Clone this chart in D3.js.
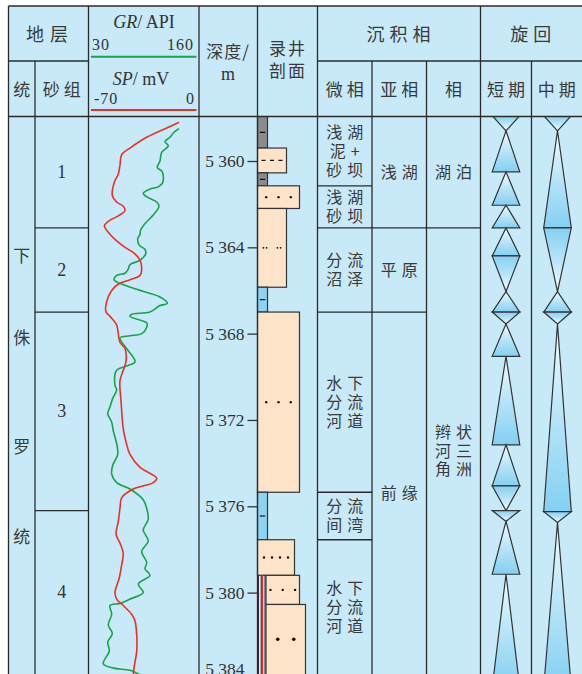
<!DOCTYPE html>
<html>
<head>
<meta charset="utf-8">
<script src="https://cdn.jsdelivr.net/npm/d3@7"></script>
<style>
  body { margin: 0; background: #fff; }
  .cjk { font-family: "Noto Sans CJK SC", sans-serif; fill: #3a3a3a; }
  .ser { font-family: "Liberation Serif", "DejaVu Serif", serif; fill: #333; }
</style>
</head>
<body>
<div id="chart"></div>
<script>
var width = 582;
var height = 674;

// depth axis
var depthTicks = [5360, 5364, 5368, 5372, 5376, 5380, 5384];
var depthLabels = ["5 360", "5 364", "5 368", "5 372", "5 376", "5 380", "5 384"];

// log curves: [depth m, value]
var grCurve = [
  [5358.5,138.9],[5358.7,131.9],[5358.9,127.8],[5359.1,121.6],[5359.3,125.7],[5359.6,117.5],
  [5360.0,115.4],[5360.3,112.1],[5360.5,118.3],[5361.0,118.8],[5361.2,113.3],[5361.3,103.0],
  [5361.5,94.7],[5361.7,100.9],[5361.9,111.3],[5362.1,114.2],[5362.5,107.1],[5362.9,96.9],
  [5363.2,91.5],[5363.4,90.7],[5363.6,87.8],[5363.9,89.8],[5364.1,96.9],[5364.3,97.7],
  [5364.6,90.7],[5364.8,78.3],[5365.0,76.2],[5365.2,72.1],[5365.3,61.8],[5365.5,58.5],
  [5365.6,61.8],[5365.9,82.4],[5366.3,115.4],[5366.6,124.5],[5366.7,115.4],[5367.0,103.0],
  [5367.1,80.4],[5367.2,78.3],[5367.5,99.0],[5367.7,99.0],[5368.0,92.8],[5368.1,78.3],
  [5368.2,65.9],[5368.7,74.2],[5369.3,84.5],[5369.5,74.2],[5369.7,61.8],[5370.4,59.7],
  [5370.6,61.8],[5371.0,56.9],[5371.4,53.5],[5371.7,50.7],[5372.1,55.6],[5372.5,57.6],
  [5373.1,61.8],[5373.6,63.1],[5374.1,56.9],[5374.5,55.6],[5374.9,61.8],[5375.2,78.3],
  [5375.7,94.7],[5376.1,99.0],[5376.6,100.9],[5377.1,94.7],[5377.6,100.9],[5378.1,92.8],
  [5378.6,99.0],[5378.9,96.9],[5379.2,103.0],[5379.6,88.6],[5380.0,94.7],[5380.3,78.3],
  [5380.5,65.9],[5380.6,53.5],[5381.0,55.6],[5381.5,51.4],[5381.9,56.4],[5382.3,50.7],
  [5382.7,52.7],[5383.3,45.2],[5383.5,57.6],[5383.6,78.3],[5383.8,90.7],[5384.0,103.0]
];
var spCurve = [
  [5358.2,-11.3],[5358.4,-17.3],[5358.9,-32.9],[5359.4,-44.0],[5359.7,-49.5],[5360.2,-50.7],
  [5360.6,-51.8],[5361.0,-54.5],[5361.6,-55.8],[5361.9,-52.9],[5362.1,-48.5],[5362.3,-47.3],
  [5362.5,-50.7],[5362.8,-58.5],[5363.0,-61.1],[5363.3,-58.5],[5363.7,-52.9],[5364.0,-47.3],
  [5364.3,-40.7],[5364.6,-37.3],[5365.0,-36.2],[5365.3,-37.3],[5365.5,-44.0],[5365.7,-51.8],
  [5366.0,-56.2],[5366.5,-59.5],[5367.0,-60.0],[5367.2,-57.3],[5367.6,-52.9],[5368.0,-51.8],
  [5368.4,-50.7],[5368.7,-47.3],[5369.3,-46.7],[5369.7,-48.5],[5370.2,-50.7],[5371.1,-50.0],
  [5372.4,-48.5],[5373.0,-46.7],[5373.6,-44.0],[5374.2,-37.3],[5374.7,-26.2],[5374.9,-28.5],
  [5375.2,-41.8],[5375.6,-49.5],[5376.1,-50.7],[5376.7,-51.8],[5377.3,-53.3],[5377.7,-50.7],
  [5378.2,-48.5],[5378.7,-49.5],[5379.3,-51.1],[5380.0,-54.0],[5380.3,-52.9],[5380.6,-48.5],
  [5381.0,-42.9],[5381.3,-40.7],[5382.0,-39.5],[5382.7,-39.5],[5383.4,-41.1],[5383.8,-41.8],
  [5384.2,-42.0]
];

// stratigraphy
var seriesChars = ["下", "侏", "罗", "统"];
var sandGroups = [
  { name: "1", top: 5357.9, bottom: 5363.1 },
  { name: "2", top: 5363.1, bottom: 5367.0 },
  { name: "3", top: 5367.0, bottom: 5376.2 },
  { name: "4", top: 5376.2, bottom: 5384.4 }
];

// lithology column
var grainLevels = ["泥岩", "粉砂岩", "粉细砂岩", "细砂岩", "中砂岩"];
var litho = [
  { top: 5357.9,  bottom: 5359.4,  rock: "灰色泥岩",   grain: "泥岩" },
  { top: 5359.4,  bottom: 5360.55, rock: "泥质粉砂岩", grain: "粉砂岩" },
  { top: 5360.55, bottom: 5361.15, rock: "灰色泥岩",   grain: "泥岩" },
  { top: 5361.15, bottom: 5362.2,  rock: "细砂岩",     grain: "细砂岩" },
  { top: 5362.2,  bottom: 5365.85, rock: "粉砂岩",     grain: "粉砂岩" },
  { top: 5365.85, bottom: 5367.0,  rock: "泥岩",       grain: "泥岩" },
  { top: 5367.0,  bottom: 5375.35, rock: "细砂岩",     grain: "细砂岩" },
  { top: 5375.35, bottom: 5377.55, rock: "泥岩",       grain: "泥岩" },
  { top: 5377.55, bottom: 5379.2,  rock: "粉细砂岩",   grain: "粉细砂岩" },
  { top: 5379.2,  bottom: 5380.55, rock: "细砂岩",     grain: "细砂岩", afterStrip: true },
  { top: 5380.55, bottom: 5384.4,  rock: "中砂岩",     grain: "中砂岩", afterStrip: true }
];
var stripLayers = [{ top: 5379.2, bottom: 5384.4 }];

// facies
var microFacies = [
  { top: 5357.9,  bottom: 5361.15, lines: ["浅湖", "泥+", "砂坝"] },
  { top: 5361.15, bottom: 5363.1,  lines: ["浅湖", "砂坝"] },
  { top: 5363.1,  bottom: 5367.0,  lines: ["分流", "沼泽"] },
  { top: 5367.0,  bottom: 5375.35, lines: ["水下", "分流", "河道"] },
  { top: 5375.35, bottom: 5377.55, lines: ["分流", "间湾"] },
  { top: 5377.55, bottom: 5384.4,  lines: ["水下", "分流", "河道"] }
];
var subFacies = [
  { top: 5357.9, bottom: 5363.1, lines: ["浅湖"] },
  { top: 5363.1, bottom: 5367.0, lines: ["平原"] },
  { top: 5367.0, bottom: 5384.4, lines: ["前缘"] }
];
var facies = [
  { top: 5357.9, bottom: 5363.1, lines: ["湖泊"] },
  { top: 5363.1, bottom: 5384.4, lines: ["辫状", "河三", "角洲"] }
];

// cycles: base = side of the wide edge
var shortCycles = [
  [5357.9, 5358.6, "top"], [5358.6, 5360.5, "bottom"], [5360.5, 5362.05, "bottom"],
  [5362.05, 5363.1, "bottom"], [5363.1, 5364.4, "bottom"], [5364.4, 5366.05, "top"],
  [5366.05, 5367.0, "bottom"], [5367.0, 5367.55, "top"], [5367.55, 5369.05, "bottom"],
  [5369.05, 5373.15, "bottom"], [5373.15, 5375.05, "bottom"], [5375.05, 5376.2, "top"],
  [5376.2, 5376.7, "top"], [5376.7, 5379.15, "bottom"], [5379.15, 5384.4, "bottom"]
];
var midCycles = [
  [5357.9, 5358.6, "top"], [5358.6, 5363.1, "bottom"], [5363.1, 5366.05, "top"],
  [5366.05, 5367.0, "bottom"], [5367.0, 5367.55, "top"], [5367.55, 5376.25, "bottom"],
  [5376.25, 5376.75, "top"], [5376.75, 5384.4, "bottom"]
];

// ---------- layout ----------
var colX = [8.5, 35, 88.5, 199, 257.5, 317.5, 372, 426.5, 480.5, 531.5, 583];
var topY = 6, midY = 61, headY = 116.5;
var lineColor = "#2b2b2b";
var bg = "#c8e9f8";

var svg = d3.select("#chart").append("svg")
  .attr("width", width)
  .attr("height", height);

var defs = svg.append("defs");
function grad(id, flip) {
  var g = defs.append("linearGradient").attr("id", id)
    .attr("x1", 0).attr("y1", flip ? 1 : 0).attr("x2", 0).attr("y2", flip ? 0 : 1);
  g.append("stop").attr("offset", "0%").attr("stop-color", "#f3fbfe");
  g.append("stop").attr("offset", "55%").attr("stop-color", "#b2e2f7");
  g.append("stop").attr("offset", "100%").attr("stop-color", "#84d0f2");
}
grad("gBottom", false);
grad("gTop", true);
defs.append("clipPath").attr("id", "bodyClip")
  .append("rect").attr("x", 0).attr("y", headY).attr("width", width).attr("height", height - headY);

svg.append("rect")
  .attr("x", colX[0]).attr("y", topY)
  .attr("width", width - colX[0]).attr("height", height - topY)
  .attr("fill", bg);

var yScale = d3.scaleLinear()
  .domain([5360, 5384])
  .range([161, 161 + 24 * 21.58]);

function yc(d) { return Math.max(headY, Math.min(height, yScale(d))); }
function midOf(d) { return (yc(d.top) + yc(d.bottom)) / 2; }

var body = svg.append("g").attr("clip-path", "url(#bodyClip)");

// ---------- logs ----------
var grScale = d3.scaleLinear().domain([30, 160]).range([91, 196]);
var spScale = d3.scaleLinear().domain([-70, 0]).range([91, 196]);

var grLine = d3.line()
  .x(function(d) { return grScale(d[1]); })
  .y(function(d) { return yScale(d[0]); })
  .curve(d3.curveCatmullRom);
var spLine = d3.line()
  .x(function(d) { return spScale(d[1]); })
  .y(function(d) { return yScale(d[0]); })
  .curve(d3.curveCatmullRom);

body.append("path").datum(grCurve).attr("d", grLine)
  .attr("fill", "none").attr("stroke", "#17a34a").attr("stroke-width", 1.6);
body.append("path").datum(spCurve).attr("d", spLine)
  .attr("fill", "none").attr("stroke", "#ee2e24").attr("stroke-width", 1.6);

// ---------- lithology ----------
var litLeft = colX[4];
var stripW = 8.5;
var grainWidth = d3.scaleOrdinal().domain(grainLevels).range([10, 29, 37, 42, 48]);
var rockFill = { "灰色泥岩": "#8b8b8b", "泥岩": "#8ed4f2" };
var rockMark = {
  "泥质粉砂岩": { type: "dash", n: 3, gap: 8.5 },
  "细砂岩": { type: "dot", n: 3, gap: 12.3 },
  "粉砂岩": { type: "pair", n: 2, gap: 14 },
  "粉细砂岩": { type: "dot", n: 4, gap: 8 },
  "中砂岩": { type: "big", n: 2, gap: 16 }
};

litho.forEach(function(l) {
  var x0 = litLeft + (l.afterStrip ? stripW : 0);
  var x1 = litLeft + grainWidth(l.grain);
  var y0 = yScale(l.top), y1 = yScale(l.bottom);
  body.append("rect")
    .attr("x", x0).attr("y", y0).attr("width", x1 - x0).attr("height", y1 - y0)
    .attr("fill", rockFill[l.rock] || "#fde4c9")
    .attr("stroke", "#333").attr("stroke-width", 1.2);
  var cy = midOf(l), cx = (x0 + x1) / 2;
  if (l.grain === "泥岩") {
    body.append("line").attr("x1", cx - 2.7).attr("x2", cx + 2.7)
      .attr("y1", cy).attr("y2", cy).attr("stroke", "#111").attr("stroke-width", 1.2);
    return;
  }
  var m = rockMark[l.rock];
  for (var i = 0; i < m.n; i++) {
    var mx = cx + (i - (m.n - 1) / 2) * m.gap;
    if (m.type === "dash") {
      body.append("line").attr("x1", mx - 2).attr("x2", mx + 2)
        .attr("y1", cy).attr("y2", cy).attr("stroke", "#111").attr("stroke-width", 1.3);
    } else if (m.type === "pair") {
      [-1.6, 1.6].forEach(function(o) {
        body.append("circle").attr("cx", mx + o).attr("cy", cy).attr("r", 0.9).attr("fill", "#111");
      });
    } else {
      body.append("circle").attr("cx", mx).attr("cy", cy)
        .attr("r", m.type === "big" ? 1.8 : 1.2).attr("fill", "#111");
    }
  }
});

stripLayers.forEach(function(s) {
  var y0 = yScale(s.top), y1 = yScale(s.bottom);
  body.append("rect").attr("x", litLeft + 1).attr("y", y0)
    .attr("width", stripW - 2).attr("height", y1 - y0)
    .attr("fill", bg).attr("stroke", "#333").attr("stroke-width", 1);
  body.append("rect").attr("x", litLeft + 3.2).attr("y", y0)
    .attr("width", 2.2).attr("height", y1 - y0).attr("fill", "#e0161b");
});

// ---------- cycles ----------
function drawCycles(data, cx, hw) {
  data.forEach(function(c) {
    var y0 = yScale(c[0]), y1 = yScale(c[1]);
    var pts = c[2] === "bottom"
      ? [[cx, y0], [cx + hw, y1], [cx - hw, y1]]
      : [[cx - hw, y0], [cx + hw, y0], [cx, y1]];
    body.append("path")
      .attr("d", d3.line()(pts) + "Z")
      .attr("fill", c[2] === "bottom" ? "url(#gBottom)" : "url(#gTop)")
      .attr("stroke", "#333").attr("stroke-width", 1.2).attr("stroke-linejoin", "miter");
  });
}
drawCycles(shortCycles, 506, 13.8);
drawCycles(midCycles, 557.5, 13.8);

// ---------- grid ----------
var grid = svg.append("g").attr("stroke", lineColor).attr("stroke-width", 1.3);
function hline(x1, x2, y) { grid.append("line").attr("x1", x1).attr("x2", x2).attr("y1", y).attr("y2", y); }
function vline(x, y1, y2) { grid.append("line").attr("x1", x).attr("x2", x).attr("y1", y1).attr("y2", y2); }

hline(colX[0], width, topY);
hline(colX[0], colX[2], midY);
hline(colX[5], width, midY);
hline(colX[0], width, headY);
[0, 2, 3, 4, 5, 8].forEach(function(i) { vline(colX[i], topY, height); });
[1, 6, 7, 9].forEach(function(i) { vline(colX[i], midY, height); });

sandGroups.slice(1).forEach(function(s) { hline(colX[1], colX[2], yScale(s.top)); });
microFacies.slice(1).forEach(function(s) { hline(colX[5], colX[6], yScale(s.top)); });
subFacies.slice(1).forEach(function(s) { hline(colX[6], colX[7], yScale(s.top)); });
facies.slice(1).forEach(function(s) { hline(colX[7], colX[8], yScale(s.top)); });

// ---------- depth axis ----------
var depthAxis = d3.axisLeft(yScale)
  .tickValues(depthTicks)
  .tickSize(10)
  .tickPadding(3)
  .tickFormat(function(d, i) { return depthLabels[i]; });
var ax = svg.append("g").attr("transform", "translate(" + colX[4] + ",0)").call(depthAxis);
ax.select(".domain").remove();
ax.selectAll("line").attr("stroke", "#333").attr("stroke-width", 1.3);
ax.selectAll("text")
  .attr("class", "ser").attr("font-size", 17.5).attr("fill", "#333")
  .style("font-family", "'Liberation Serif', serif");
ax.selectAll("text").filter(function(d) { return d === 5384; }).attr("dy", "-0.25em");

// ---------- text ----------
function txt(x, y, s, cls, size, ls, anchor) {
  return svg.append("text").attr("class", cls)
    .attr("x", x).attr("y", y)
    .attr("font-size", size)
    .attr("text-anchor", anchor || "middle")
    .style("letter-spacing", (ls || 0) + "px")
    .text(s);
}
function stack(lines, cx, cy, step) {
  lines.forEach(function(s, i) {
    var y = cy + (i - (lines.length - 1) / 2) * step + 6;
    txt(cx + 2.5, y, s, "cjk", 16, 5);
  });
}

// header
txt(50, 41, "地层", "cjk", 18, 6);
txt((colX[5] + colX[8]) / 2 + 2, 41, "沉积相", "cjk", 18, 5);
txt((colX[8] + width) / 2 + 2, 41, "旋回", "cjk", 18, 5);
var lower = [["统", (colX[0] + colX[1]) / 2], ["砂组", (colX[1] + colX[2]) / 2],
  ["微相", (colX[5] + colX[6]) / 2], ["亚相", (colX[6] + colX[7]) / 2],
  ["相", (colX[7] + colX[8]) / 2], ["短期", (colX[8] + colX[9]) / 2],
  ["中期", (colX[9] + width) / 2]];
lower.forEach(function(h) { txt(h[1] + 2, 96, h[0], "cjk", 17, 4); });
txt(228, 58, "深度/", "cjk", 17, 1);
txt(228, 80, "m", "ser", 18, 0);
txt(288, 55, "录井", "cjk", 17, 2);
txt(288, 77, "剖面", "cjk", 17, 2);

var gr = svg.append("text").attr("class", "ser").attr("x", 144).attr("y", 28)
  .attr("text-anchor", "middle").attr("font-size", 18);
gr.append("tspan").attr("font-style", "italic").text("GR");
gr.append("tspan").text("/ API");
txt(92, 50, "30", "ser", 16, 1, "start");
txt(194, 50, "160", "ser", 16, 1, "end");
var sp = svg.append("text").attr("class", "ser").attr("x", 141).attr("y", 85)
  .attr("text-anchor", "middle").attr("font-size", 18);
sp.append("tspan").attr("font-style", "italic").text("SP");
sp.append("tspan").text("/ mV");
txt(94, 104, "-70", "ser", 16, 1, "start");
txt(194, 104, "0", "ser", 16, 0, "end");
svg.append("line").attr("x1", 91).attr("x2", 196.5).attr("y1", 56.7).attr("y2", 56.7)
  .attr("stroke", "#17a34a").attr("stroke-width", 2);
svg.append("line").attr("x1", 91).attr("x2", 196.5).attr("y1", 110).attr("y2", 110)
  .attr("stroke", "#ee2e24").attr("stroke-width", 2);

// body text
var seriesY = [256, 338, 447, 537];
seriesChars.forEach(function(c, i) { txt((colX[0] + colX[1]) / 2, seriesY[i] + 6, c, "cjk", 17, 0); });
sandGroups.forEach(function(s) { txt((colX[1] + colX[2]) / 2, midOf(s) + 6, s.name, "ser", 18, 0); });
microFacies.forEach(function(f) { stack(f.lines, (colX[5] + colX[6]) / 2, midOf(f), 19); });
subFacies.forEach(function(f) { stack(f.lines, (colX[6] + colX[7]) / 2, midOf(f), 19); });
facies.forEach(function(f) { stack(f.lines, (colX[7] + colX[8]) / 2, midOf(f), 18.5); });
</script>
</body>
</html>
